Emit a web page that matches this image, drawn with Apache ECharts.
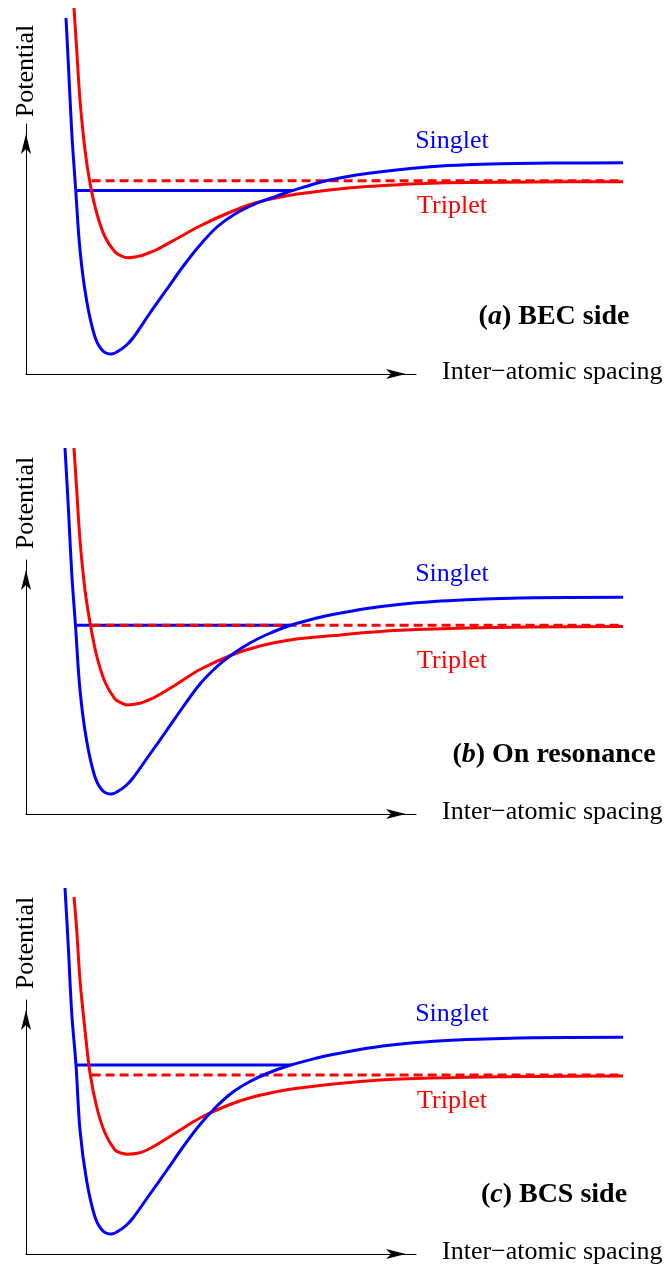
<!DOCTYPE html>
<html>
<head>
<meta charset="utf-8">
<script src="https://cdn.jsdelivr.net/npm/echarts@6/dist/echarts.min.js"></script>
<style>
  html, body { margin: 0; padding: 0; background: #ffffff; }
  #chart { width: 668px; height: 1270px; }
</style>
</head>
<body>
<div id="chart"></div>
<script>
// Interatomic potentials, [spacing, potential] in arbitrary units.

// (a) BEC side
const singletBEC = [[1.000,14.24],[1.063,12.28],[1.145,9.64],[1.243,7.36],[1.350,4.96],[1.513,2.96],[1.725,1.48],[1.925,0.92],[2.138,0.80],[2.350,0.96],[2.500,1.14],[2.675,1.44],[3.100,2.44],[3.525,3.40],[3.925,4.30],[4.350,5.16],[4.775,5.88],[5.225,6.40],[5.725,6.80],[6.150,7.05],[6.550,7.28],[6.975,7.49],[7.425,7.70],[7.975,7.88],[8.525,8.02],[9.375,8.18],[10.200,8.30],[11.025,8.37],[11.875,8.41],[12.700,8.43],[13.525,8.44],[14.925,8.45]];
const tripletBEC = [[1.200,14.64],[1.268,12.96],[1.350,10.96],[1.475,8.96],[1.600,7.64],[1.768,6.44],[1.975,5.48],[2.225,4.88],[2.375,4.73],[2.550,4.65],[2.850,4.72],[3.050,4.83],[3.275,4.98],[3.775,5.42],[4.350,5.92],[5.025,6.42],[5.725,6.84],[6.425,7.10],[7.100,7.26],[7.700,7.38],[8.525,7.50],[9.375,7.58],[10.100,7.63],[11.025,7.66],[12.700,7.68],[14.925,7.69]];
const boundBEC = [[1.243,7.34],[6.65,7.34]];
const thresholdBEC = [[1.64,7.73],[14.925,7.73]];

// (b) On resonance
const singletRes = [[0.975,14.64],[1.058,12.28],[1.143,9.64],[1.238,7.52],[1.350,4.96],[1.513,2.96],[1.725,1.48],[1.925,0.92],[2.138,0.80],[2.350,0.96],[2.500,1.14],[2.675,1.44],[3.100,2.40],[3.525,3.36],[3.925,4.28],[4.350,5.20],[4.775,5.90],[5.150,6.38],[5.600,6.84],[6.025,7.18],[6.600,7.54],[7.275,7.84],[7.700,7.99],[8.525,8.22],[9.375,8.39],[10.200,8.50],[11.025,8.57],[11.875,8.62],[12.700,8.65],[14.925,8.67]];
const tripletRes = [[1.200,14.64],[1.268,12.96],[1.350,10.96],[1.475,8.96],[1.613,7.54],[1.768,6.32],[1.975,5.28],[2.225,4.60],[2.375,4.45],[2.525,4.36],[2.850,4.43],[3.050,4.55],[3.275,4.72],[3.775,5.20],[4.350,5.78],[5.143,6.36],[5.850,6.72],[6.675,6.98],[7.350,7.09],[7.700,7.14],[8.525,7.26],[9.375,7.35],[11.025,7.44],[12.700,7.48],[14.925,7.50]];
const boundRes = [[1.238,7.55],[6.60,7.55]];
const thresholdRes = [[1.64,7.55],[14.925,7.55]];

// (c) BCS side
const singletBCS = [[0.975,14.64],[1.058,12.28],[1.143,9.64],[1.250,7.56],[1.350,4.96],[1.513,2.96],[1.725,1.48],[1.925,0.92],[2.138,0.80],[2.350,0.96],[2.500,1.14],[2.675,1.44],[3.100,2.40],[3.525,3.36],[3.925,4.28],[4.350,5.18],[4.775,5.92],[5.175,6.48],[5.600,6.90],[6.025,7.22],[6.600,7.55],[7.275,7.84],[7.700,7.99],[8.525,8.23],[9.375,8.40],[10.200,8.51],[11.025,8.58],[12.700,8.65],[14.925,8.67]];
const tripletBCS = [[1.200,14.28],[1.268,12.96],[1.350,10.96],[1.475,8.96],[1.600,7.24],[1.768,5.88],[1.975,4.84],[2.225,4.16],[2.375,4.04],[2.525,3.99],[2.850,4.05],[3.050,4.18],[3.275,4.38],[3.775,4.88],[4.350,5.44],[5.100,5.98],[5.675,6.28],[6.425,6.54],[7.100,6.69],[7.700,6.80],[8.525,6.92],[9.375,7.00],[11.025,7.07],[12.700,7.10],[14.925,7.12]];
const boundBCS = [[1.250,7.56],[6.62,7.56]];
const thresholdBCS = [[1.64,7.16],[14.925,7.16]];

const panelTags = ['a', 'b', 'c'];
const panelTitles = [') BEC side', ') On resonance', ') BCS side'];
const axisNames = { x: 'Inter\u2212atomic spacing', y: 'Potential' };
const curveNames = { singlet: 'Singlet', triplet: 'Triplet' };

const BLUE = '#0000ff';
const RED = '#ff0000';
const SERIF = '"Liberation Serif", "Times New Roman", serif';
const LINE_W = 3;
const SMOOTH = 0.35;

// x scale: 40 px per unit; the drawn axis reaches 9.75, curves run on to 14.925
const X_AXIS_END = 9.75;
const X_CURVE_END = 14.925;
const PX_PER_X = 40;

// layout per panel (pixel placement of grids and annotations)
const panels = [
  { top: 0,   tip: 124, yMax: 10.0,  singlet: singletBEC, triplet: tripletBEC, bound: boundBEC, threshold: thresholdBEC, potY: 71, sY: 141, tY: 206, labelY: 316.5 },
  { top: 440, tip: 120, yMax: 10.16, singlet: singletRes, triplet: tripletRes, bound: boundRes, threshold: thresholdRes, potY: 63, sY: 134.5, tY: 221.5, labelY: 314.5 },
  { top: 880, tip: 120, yMax: 10.16, singlet: singletBCS, triplet: tripletBCS, bound: boundBCS, threshold: thresholdBCS, potY: 63, sY: 134.5, tY: 221.5, labelY: 314.5 }
];

const AXIS_BOTTOM = 374;
const LEFT = 26;
const grids = [], xAxes = [], yAxes = [], series = [], graphics = [];

const arrowLine = {
  show: true,
  onZero: false,
  symbol: ['none', 'arrow'],
  symbolSize: [7.5, 20],
  symbolOffset: [0, -10],
  lineStyle: { color: '#000', width: 1 }
};
const hidden = { show: false };

panels.forEach((p, i) => {
  const gTop = p.top + p.tip;
  const gHeight = AXIS_BOTTOM - p.tip;

  // grid carrying the drawn axes (arrows)
  grids.push({ left: LEFT, width: X_AXIS_END * PX_PER_X, top: gTop, height: gHeight });
  xAxes.push({ gridIndex: 2 * i, type: 'value', min: 0, max: X_AXIS_END,
    axisLine: arrowLine, axisTick: hidden, axisLabel: hidden, splitLine: hidden });
  yAxes.push({ gridIndex: 2 * i, type: 'value', min: 0, max: p.yMax,
    axisLine: arrowLine, axisTick: hidden, axisLabel: hidden, splitLine: hidden });

  // grid carrying the curves, same scale, wider span
  grids.push({ left: LEFT, width: X_CURVE_END * PX_PER_X, top: gTop, height: gHeight });
  xAxes.push({ gridIndex: 2 * i + 1, type: 'value', min: 0, max: X_CURVE_END, show: false });
  yAxes.push({ gridIndex: 2 * i + 1, type: 'value', min: 0, max: p.yMax, show: false });

  const base = { type: 'line', xAxisIndex: 2 * i + 1, yAxisIndex: 2 * i + 1,
    showSymbol: false, clip: false, silent: true, animation: false };

  series.push(Object.assign({}, base, {
    name: 'bound' + i, data: p.bound, z: 2,
    lineStyle: { color: BLUE, width: LINE_W }
  }));
  series.push(Object.assign({}, base, {
    name: 'threshold' + i, data: p.threshold, z: 3,
    lineStyle: { color: RED, width: LINE_W, type: [9, 5] }
  }));
  series.push(Object.assign({}, base, {
    name: curveNames.triplet + i, data: p.triplet, z: 4, smooth: SMOOTH,
    lineStyle: { color: RED, width: LINE_W }
  }));
  series.push(Object.assign({}, base, {
    name: curveNames.singlet + i, data: p.singlet, z: 5, smooth: SMOOTH,
    lineStyle: { color: BLUE, width: LINE_W }
  }));

  // axis titles
  graphics.push({
    type: 'text', x: LEFT, y: p.top + p.potY, rotation: Math.PI / 2,
    style: { text: axisNames.y, font: '26px ' + SERIF, fill: '#000', align: 'center', verticalAlign: 'middle' }
  });
  graphics.push({
    type: 'text', x: 442, y: p.top + 372,
    style: { text: axisNames.x, font: '26px ' + SERIF, fill: '#000', align: 'left', verticalAlign: 'middle' }
  });
  // curve labels
  graphics.push({
    type: 'text', x: 452, y: p.top + p.sY,
    style: { text: curveNames.singlet, font: '26px ' + SERIF, fill: BLUE, align: 'center', verticalAlign: 'middle' }
  });
  graphics.push({
    type: 'text', x: 452, y: p.top + p.tY,
    style: { text: curveNames.triplet, font: '26px ' + SERIF, fill: RED, align: 'center', verticalAlign: 'middle' }
  });
  // panel title
  graphics.push({
    type: 'text', x: 554, y: p.top + p.labelY,
    style: {
      text: '{b|(}{bi|' + panelTags[i] + '}{b|' + panelTitles[i] + '}',
      align: 'center', verticalAlign: 'middle',
      rich: {
        b: { fontFamily: SERIF, fontSize: 28, fontWeight: 'bold', fill: '#000' },
        bi: { fontFamily: SERIF, fontSize: 28, fontWeight: 'bold', fontStyle: 'italic', fill: '#000' }
      }
    }
  });
});

const chart = echarts.init(document.getElementById('chart'), null, { renderer: 'canvas' });
chart.setOption({
  backgroundColor: '#ffffff',
  animation: false,
  grid: grids,
  xAxis: xAxes,
  yAxis: yAxes,
  series: series,
  graphic: graphics
});
</script>
</body>
</html>
